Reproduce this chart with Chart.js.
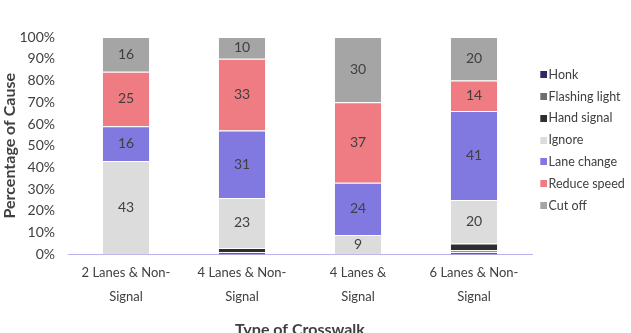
<!DOCTYPE html>
<html>
<head>
<meta charset="utf-8">
<script src="https://cdn.jsdelivr.net/npm/chart.js@4/dist/chart.umd.min.js"></script>
<style>
html,body{margin:0;padding:0;background:#fff;}
#wrap{width:631px;height:333px;position:relative;}
</style>
</head>
<body>
<div id="wrap"><canvas id="chart"></canvas></div>
<script>
// categories (x axis)
const crosswalks = [
["2 Lanes & Non-","Signal"],
["4 Lanes & Non-","Signal"],
["4 Lanes &","Signal"],
["6 Lanes & Non-","Signal"]
];

// series, bottom of stack first
const causes = ["Honk","Flashing light","Hand signal","Ignore","Lane change","Reduce speed","Cut off"];
const honk = [0,1,0,1];
const flashing = [0,0,0,1];
const handSignal = [0,2,0,3];
const ignore = [43,23,9,20];
const laneChange = [16,31,24,41];
const reduceSpeed = [25,33,37,14];
const cutOff = [16,10,30,20];

const series = [honk,flashing,handSignal,ignore,laneChange,reduceSpeed,cutOff];
const colors = ["#2c2a6b","#6e6e6e","#2e2e2e","#dcdcdc","#8279e0","#ef7c83","#a5a5a5"];

const yTicks = [0,10,20,30,40,50,60,70,80,90,100];

const font = "Lato";
const textColor = "#404040";

// small square legend markers (drawn right of centre so the text sits close)
function square(color){
const c = document.createElement("canvas");
c.width = 11;
c.height = 7;
const g = c.getContext("2d");
g.fillStyle = color;
g.fillRect(4,0,7,7);
return c;
}
const markers = colors.map(square);

// value labels in the middle of each segment
const valueLabels = {
id:"valueLabels",
afterDatasetsDraw(chart){
const ctx = chart.ctx;
ctx.save();
ctx.font = "14px " + font;
ctx.fillStyle = textColor;
ctx.textAlign = "center";
ctx.textBaseline = "middle";
chart.data.datasets.forEach((ds,i)=>{
const meta = chart.getDatasetMeta(i);
meta.data.forEach((bar,j)=>{
const v = ds.data[j];
if(v<5)return;
const mid = (bar.y + bar.base)/2;
ctx.fillText(String(v), bar.x, mid);
});
});
ctx.restore();
}
};

new Chart(document.getElementById("chart"),{
type:"bar",
data:{
labels:crosswalks,
datasets:series.map((d,i)=>({
label:causes[i],
data:d,
backgroundColor:colors[i],
borderColor:"#ffffff",
borderWidth:{top:1,bottom:0,left:0,right:0},
borderSkipped:false,
categoryPercentage:1,
barPercentage:0.4
}))
},
options:{
responsive:true,
maintainAspectRatio:false,
animation:false,
layout:{padding:{top:37,left:0,right:0,bottom:-6}},
plugins:{
legend:{
position:"right",
align:"start",
maxWidth:99,
title:{display:true,text:" ",font:{size:11},padding:{top:9,bottom:0}},
labels:{
boxWidth:1,
boxHeight:7,
padding:9.3,
usePointStyle:true,
color:textColor,
font:{family:font,size:12.5},
generateLabels(chart){
const items = Chart.defaults.plugins.legend.labels.generateLabels(chart);
items.forEach(it=>{it.pointStyle = markers[it.datasetIndex];});
return items;
}
}
},
tooltip:{enabled:false}
},
scales:{
x:{
stacked:true,
grid:{display:false,drawTicks:false},
border:{display:true,color:"#b8b4f0",width:1},
ticks:{color:textColor,font:{family:font,size:13,lineHeight:1.82},maxRotation:0,autoSkip:false,padding:7},
title:{display:true,text:"Type of Crosswalk",color:textColor,font:{family:font,size:16,weight:"bold"},padding:{top:4,bottom:0}}
},
y:{
stacked:true,
min:0,
max:100,
grid:{display:false,drawTicks:false},
border:{display:false},
afterBuildTicks(axis){axis.ticks = yTicks.map(v=>({value:v}));},
afterFit(axis){axis.width = 68;},
ticks:{color:textColor,font:{family:font,size:14},callback:v=>v+"%",padding:13},
title:{display:true,text:"Percentage of Cause",color:textColor,font:{family:font,size:16,weight:"bold"},padding:{top:0,bottom:2}}
}
}
},
plugins:[valueLabels]
});
</script>
</body>
</html>
